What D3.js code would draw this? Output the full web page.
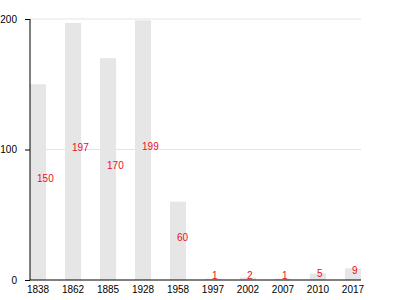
<!DOCTYPE html>
<html>
<head>
<meta charset="utf-8">
<script src="https://cdn.jsdelivr.net/npm/d3@7"></script>
<style>
  body { margin: 0; background: #fff; }
  text { font-family: "Liberation Sans", Arial, sans-serif; }
</style>
</head>
<body>
<svg></svg>
<script>
const years = ['1838', '1862', '1885', '1928', '1958', '1997', '2002', '2007', '2010', '2017'];
const counts = [150, 197, 170, 199, 60, 1, 2, 1, 5, 9];
const yTicks = [0, 100, 200];

const width = 400;
const height = 300;
const margin = { top: 19, right: 39, bottom: 20, left: 30 };
const innerWidth = width - margin.left - margin.right;
const innerHeight = height - margin.top - margin.bottom;

const svg = d3.select('svg')
  .attr('width', width)
  .attr('height', height);

const g = svg.append('g')
  .attr('transform', `translate(${margin.left},${margin.top})`);

const x = d3.scaleBand()
  .domain(years)
  .range([0, innerWidth])
  .paddingInner(0.54)
  .paddingOuter(0);

const y = d3.scaleLinear()
  .domain([0, 200])
  .range([innerHeight, 0]);

// grid lines
g.selectAll('.grid')
  .data(yTicks.filter(d => d > 0))
  .enter()
  .append('line')
  .attr('x1', 0)
  .attr('x2', innerWidth)
  .attr('y1', d => y(d))
  .attr('y2', d => y(d))
  .attr('stroke', '#e4e4e4');

const data = years.map((yr, i) => ({ year: yr, value: counts[i] }));

g.selectAll('rect')
  .data(data)
  .enter()
  .append('rect')
  .attr('x', d => x(d.year))
  .attr('y', d => y(d.value))
  .attr('width', x.bandwidth())
  .attr('height', d => innerHeight - y(d.value))
  .attr('fill', '#e6e6e6');

g.selectAll('.val')
  .data(data)
  .enter()
  .append('text')
  .attr('x', d => x(d.year) + x.bandwidth() / 2 - 1)
  .attr('y', d => y(d.value / 2))
  .attr('fill', '#e8101e')
  .attr('font-size', 10)
  .text(d => d.value);

const yAxis = g.append('g')
  .call(d3.axisLeft(y).tickValues(yTicks).tickSize(5).tickPadding(8));
yAxis.selectAll('text').attr('font-size', 10).attr('fill', '#000').style('font-family', '"Liberation Sans", Arial, sans-serif');
yAxis.select('.domain').attr('d', `M0,0V${innerHeight}`);

const xAxis = g.append('g')
  .attr('transform', `translate(0,${innerHeight})`)
  .call(d3.axisBottom(x).tickSize(0).tickPadding(6));
xAxis.selectAll('text').attr('font-size', 10).attr('fill', '#000').style('font-family', '"Liberation Sans", Arial, sans-serif');
xAxis.select('.domain').attr('d', `M0,0H${innerWidth}`);
</script>
</body>
</html>
